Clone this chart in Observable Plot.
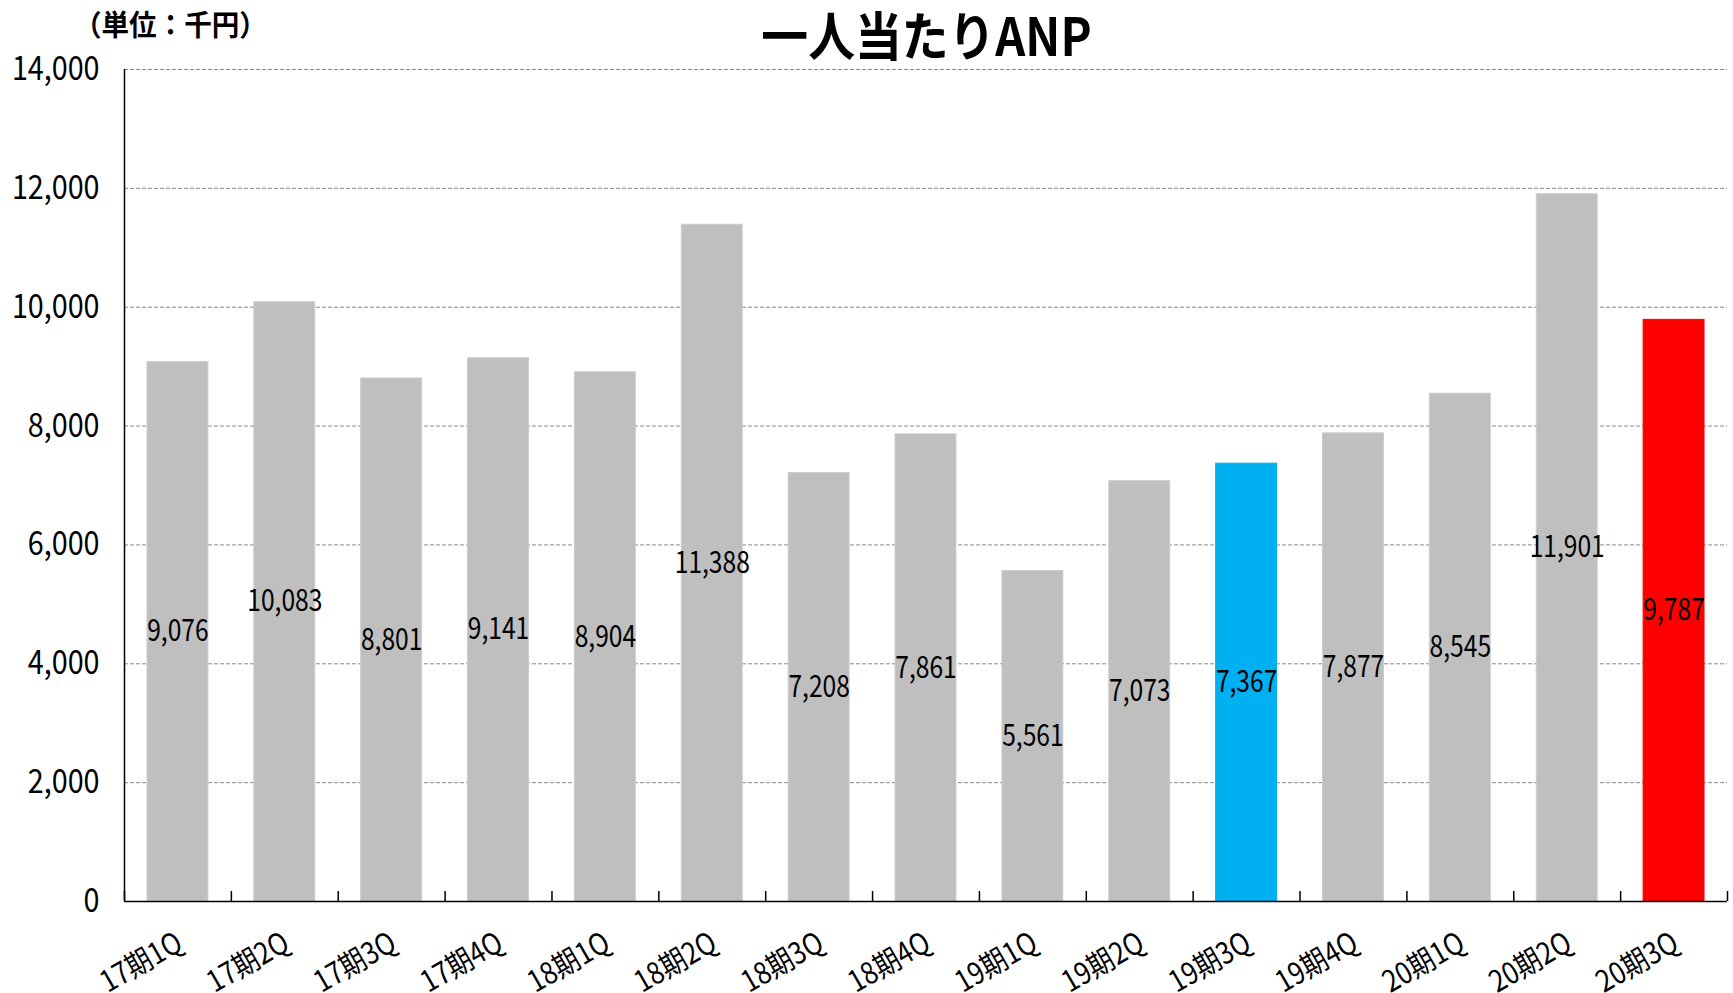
<!DOCTYPE html>
<html>
<head>
<meta charset="utf-8">
<script src="https://cdn.jsdelivr.net/npm/d3@7"></script>
<script src="https://cdn.jsdelivr.net/npm/@observablehq/plot@0.6"></script>
<style>
  html, body { margin: 0; padding: 0; background: #fff; }
  #wrap { position: relative; width: 1733px; height: 993px; font-family: "Noto Sans CJK JP", sans-serif; }
  #title { position: absolute; left: 0; width: 1852px; top: 2px; text-align: center; font-family: "Noto Sans CJK JP", sans-serif; font-weight: bold; font-size: 52px; line-height: 64px; color: #000; }
  #title span { display: inline-block; transform: scaleX(0.9); transform-origin: center; }
  #unit { position: absolute; left: 74px; top: 4px; font-family: "Noto Sans CJK JP", sans-serif; font-weight: bold; font-size: 29px; line-height: 38px; color: #000; transform: scaleX(0.95); transform-origin: left center; white-space: nowrap; }
</style>
</head>
<body>
<div id="wrap">
  <div id="chart"></div>
  <div id="title"><span>一人当たりANP</span></div>
  <div id="unit">（単位：千円）</div>
</div>
<script>
const categories = ["17期1Q","17期2Q","17期3Q","17期4Q","18期1Q","18期2Q","18期3Q","18期4Q","19期1Q","19期2Q","19期3Q","19期4Q","20期1Q","20期2Q","20期3Q"];
const values = [9076, 10083, 8801, 9141, 8904, 11388, 7208, 7861, 5561, 7073, 7367, 7877, 8545, 11901, 9787];
const yTicks = [0, 2000, 4000, 6000, 8000, 10000, 12000, 14000];
const currentQ = "20期3Q";
const compareQ = "19期3Q";

const data = categories.map((c, i) => ({cat: c, value: values[i]}));

const W = 1733, H = 993;
const mL = 124, mR = 6, mT = 69, mB = 92;
const step = (W - mL - mR) / categories.length;
const yMax = yTicks[yTicks.length - 1];
const tickLen = yMax * 10 / (H - mT - mB);
const fmt = d3.format(",");
const font = '"Noto Sans CJK JP", sans-serif';

const chart = Plot.plot({
  width: W,
  height: H,
  marginLeft: mL,
  marginRight: mR,
  marginTop: mT,
  marginBottom: mB,
  style: {fontFamily: font, background: "#fff", color: "#000", overflow: "visible"},
  x: {domain: categories, paddingInner: 0.43, paddingOuter: 0.215, round: false, axis: null, label: null},
  y: {domain: [0, yMax], label: null},
  marks: [
    Plot.ruleY(yTicks.filter(d => d > 0), {stroke: "#8a8a8a", strokeWidth: 1, strokeDasharray: "4,2"}),
    Plot.barY(data, {
      x: "cat", y: "value",
      fill: d => d.cat === currentQ ? "#FF0000" : d.cat === compareQ ? "#00B0F0" : "#BFBFBF",
      stroke: d => d.cat === currentQ ? "#FF0000" : d.cat === compareQ ? "#00B0F0" : "#CCCCCC",
      strokeWidth: 1
    }),
    Plot.text(data, {x: "cat", y: d => d.value / 2, text: d => fmt(d.value), fontSize: 30, fill: "#000"}),
    Plot.ruleY([0], {stroke: "#000", strokeWidth: 1.5}),
    Plot.ruleX([categories[0]], {dx: -step / 2, y1: 0, y2: yMax, stroke: "#000", strokeWidth: 1.5}),
    Plot.ruleX(categories, {dx: -step / 2, y1: 0, y2: tickLen, stroke: "#000", strokeWidth: 1.5}),
    Plot.ruleX([categories[categories.length - 1]], {dx: step / 2, y1: 0, y2: tickLen, stroke: "#000", strokeWidth: 1.5}),
    Plot.axisY({ticks: yTicks, tickSize: 0, tickPadding: 25, tickFormat: fmt, fontSize: 33, label: null}),
    Plot.text(categories, {x: d => d, y: 0, text: d => d, rotate: -30, textAnchor: "end", lineAnchor: "middle", dx: 2, dy: 39, fontSize: 30, fill: "#000"})
  ]
});
document.getElementById("chart").appendChild(chart);

// condense glyphs horizontally around each text's anchor
function condense(sel, sx) {
  sel.each(function () {
    const el = d3.select(this);
    const x = +el.attr("x") || 0;
    const y = +el.attr("y") || 0;
    const t = el.attr("transform") || "";
    el.attr("transform", `${t} translate(${x},${y}) scale(${sx},1) translate(${-x},${-y})`);
  });
}
const svg = d3.select(chart);
condense(svg.selectAll('g[aria-label="y-axis tick label"] text'), 0.87);
const textGroups = svg.selectAll('g[aria-label="text"]').nodes();
if (textGroups[0]) condense(d3.select(textGroups[0]).selectAll("text"), 0.82);
if (textGroups[1]) condense(d3.select(textGroups[1]).selectAll("text"), 0.87);
</script>
</body>
</html>
